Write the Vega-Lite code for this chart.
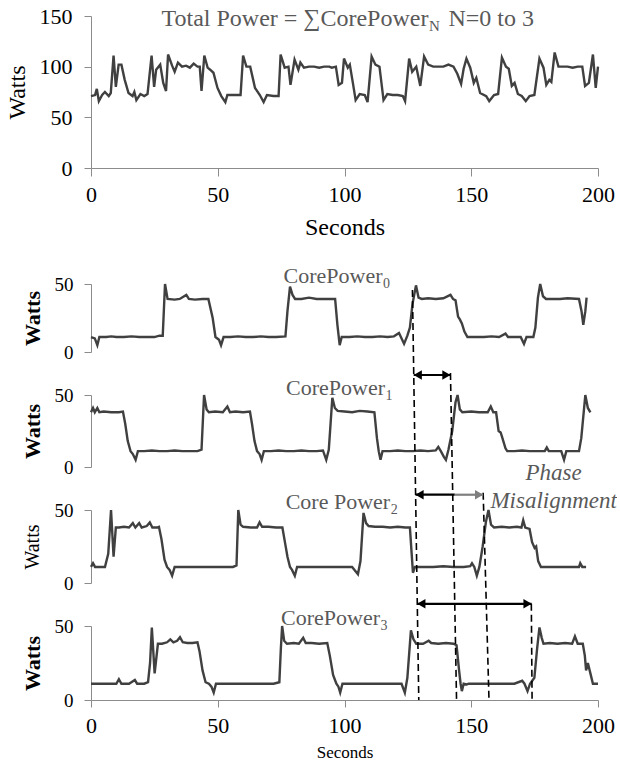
{
  "$schema": "https://vega.github.io/schema/vega-lite/v6.json",
  "padding": {"left": 5, "top": 5, "right": 0, "bottom": 0},
  "config": {
    "font": "Liberation Serif, Times New Roman, DejaVu Serif, serif",
    "text": {"font": "Liberation Serif, Times New Roman, DejaVu Serif, serif"},
    "view": {"stroke": null},
    "axis": {"domainColor": "#8c8c8c", "tickColor": "#8c8c8c", "labelColor": "#000000", "titleColor": "#000000", "labelFont": "Liberation Serif, Times New Roman, DejaVu Serif, serif", "titleFont": "Liberation Serif, Times New Roman, DejaVu Serif, serif", "grid": false, "labelFlush": false, "labelOverlap": false}
  },
  "datasets": {
    "total": [
      {"t":0,"w":71},{"t":1.6,"w":72},{"t":2.3,"w":78},{"t":3.1,"w":66},{"t":4.4,"w":72},{"t":5.5,"w":75},{"t":7,"w":71},{"t":7.8,"w":74},{"t":8.9,"w":111},{"t":9.8,"w":80},{"t":10.9,"w":102},{"t":12,"w":102},{"t":13.3,"w":87},{"t":14.8,"w":74},{"t":16.4,"w":71},{"t":17.1,"w":75},{"t":17.9,"w":67},{"t":19.5,"w":73},{"t":21,"w":71},{"t":22.3,"w":73},{"t":23.9,"w":111},{"t":24.9,"w":80},{"t":25.7,"w":97},{"t":27.3,"w":102},{"t":28.5,"w":84},{"t":29.6,"w":76},{"t":30.4,"w":112},{"t":32,"w":101},{"t":33,"w":95},{"t":34.3,"w":104},{"t":35.9,"w":100},{"t":37.5,"w":101},{"t":39,"w":99},{"t":40.5,"w":103},{"t":42,"w":100},{"t":42.9,"w":100},{"t":43.6,"w":76},{"t":44.7,"w":111},{"t":46,"w":99},{"t":47,"w":97},{"t":48.3,"w":94},{"t":49.9,"w":79},{"t":51.4,"w":71},{"t":53,"w":65},{"t":53.8,"w":72},{"t":56,"w":72},{"t":59,"w":72},{"t":60,"w":111},{"t":61.3,"w":100},{"t":62.8,"w":100},{"t":64.7,"w":79},{"t":66.6,"w":72},{"t":68.1,"w":65},{"t":69.4,"w":72},{"t":72,"w":71},{"t":74,"w":71},{"t":74.8,"w":112},{"t":76.4,"w":99},{"t":77.9,"w":100},{"t":78.7,"w":82},{"t":80.3,"w":107},{"t":81.8,"w":97},{"t":82.6,"w":104},{"t":84,"w":99},{"t":86,"w":100},{"t":88,"w":100},{"t":90,"w":99},{"t":92,"w":100},{"t":94,"w":100},{"t":95,"w":99},{"t":96.6,"w":100},{"t":97.7,"w":82},{"t":99,"w":84},{"t":99.8,"w":108},{"t":101.3,"w":99},{"t":102.1,"w":102},{"t":103.3,"w":84},{"t":104.4,"w":67},{"t":106,"w":73},{"t":108,"w":72},{"t":109.1,"w":65},{"t":110.7,"w":110},{"t":112.2,"w":102},{"t":113.8,"w":100},{"t":115.4,"w":67},{"t":116.9,"w":73},{"t":119,"w":72},{"t":121,"w":72},{"t":123,"w":71},{"t":123.9,"w":66},{"t":125.5,"w":108},{"t":126.7,"w":95},{"t":128.3,"w":100},{"t":129.9,"w":81},{"t":131.4,"w":110},{"t":133,"w":102},{"t":135,"w":100},{"t":137,"w":100},{"t":139,"w":100},{"t":141,"w":102},{"t":143,"w":100},{"t":144.5,"w":93},{"t":146,"w":83},{"t":147,"w":98},{"t":148.1,"w":108},{"t":149.6,"w":99},{"t":151,"w":84},{"t":152,"w":89},{"t":153.5,"w":74},{"t":155.9,"w":71},{"t":157.1,"w":66},{"t":159,"w":72},{"t":160.6,"w":73},{"t":162.1,"w":109},{"t":163.7,"w":100},{"t":164.8,"w":98},{"t":166,"w":81},{"t":167.1,"w":84},{"t":168.4,"w":73},{"t":169.9,"w":71},{"t":171.5,"w":66},{"t":173,"w":71},{"t":174.9,"w":72},{"t":176.9,"w":108},{"t":178.5,"w":99},{"t":179.6,"w":82},{"t":180.8,"w":87},{"t":181.6,"w":85},{"t":182.9,"w":114},{"t":184.4,"w":100},{"t":186,"w":100},{"t":188,"w":100},{"t":190,"w":99},{"t":192,"w":100},{"t":193.8,"w":100},{"t":194.9,"w":81},{"t":196.4,"w":84},{"t":198,"w":112},{"t":199.1,"w":79},{"t":200,"w":100}
    ],
    "c0": [
      {"t":0,"w":11},{"t":1.5,"w":10},{"t":2.5,"w":5},{"t":3.3,"w":11},{"t":6,"w":11},{"t":8,"w":11.5},{"t":10,"w":11},{"t":13,"w":11},{"t":16,"w":11.5},{"t":19,"w":11},{"t":22,"w":11},{"t":25,"w":11},{"t":27,"w":12},{"t":28.3,"w":12},{"t":29.2,"w":50},{"t":30.2,"w":39},{"t":33,"w":38.5},{"t":35,"w":39},{"t":37.6,"w":42},{"t":38.6,"w":39},{"t":41,"w":38.5},{"t":44,"w":39},{"t":46.3,"w":39},{"t":48,"w":25},{"t":49.1,"w":11},{"t":50.5,"w":9},{"t":51.3,"w":5},{"t":52.3,"w":11},{"t":55,"w":11},{"t":58,"w":11.5},{"t":61,"w":11},{"t":64,"w":11},{"t":67,"w":11.5},{"t":70,"w":11},{"t":73,"w":11},{"t":76.7,"w":11.5},{"t":77.5,"w":30},{"t":78.5,"w":48},{"t":79.5,"w":42},{"t":80.5,"w":39},{"t":83,"w":39},{"t":86,"w":40},{"t":89,"w":39},{"t":92,"w":39},{"t":96.3,"w":39},{"t":97.2,"w":20},{"t":98.1,"w":5},{"t":98.9,"w":11},{"t":102,"w":11},{"t":105,"w":11.5},{"t":108,"w":11},{"t":111,"w":11},{"t":114,"w":11.5},{"t":117,"w":11},{"t":119.5,"w":11.5},{"t":121.5,"w":14},{"t":123.5,"w":6},{"t":124.8,"w":12},{"t":125.8,"w":18},{"t":126.8,"w":35},{"t":128.2,"w":49},{"t":129.2,"w":40},{"t":130.5,"w":39},{"t":133,"w":39.5},{"t":136,"w":39},{"t":139,"w":39.5},{"t":141.8,"w":42},{"t":142.8,"w":39},{"t":143.8,"w":38},{"t":144.8,"w":26},{"t":145.5,"w":24},{"t":146.3,"w":21},{"t":147.3,"w":15},{"t":148.5,"w":11},{"t":152,"w":11},{"t":155,"w":11},{"t":158,"w":11.5},{"t":161,"w":11},{"t":163.5,"w":13.5},{"t":164.5,"w":11},{"t":167,"w":11},{"t":169.5,"w":11},{"t":170.8,"w":6},{"t":171.8,"w":11},{"t":174.5,"w":11},{"t":175.3,"w":18},{"t":176.3,"w":40},{"t":177.2,"w":50},{"t":178.3,"w":41},{"t":179.5,"w":39},{"t":182,"w":39},{"t":185,"w":39},{"t":188,"w":39.5},{"t":192.5,"w":39},{"t":193.5,"w":30},{"t":194.2,"w":20},{"t":195,"w":30},{"t":195.5,"w":40}
    ],
    "c1": [
      {"t":0,"w":38},{"t":0.8,"w":41},{"t":1.5,"w":38},{"t":2.5,"w":41},{"t":3.3,"w":38},{"t":5,"w":38.5},{"t":8,"w":38},{"t":11,"w":38},{"t":12.6,"w":38.5},{"t":13.5,"w":30},{"t":14.5,"w":18},{"t":15.6,"w":11},{"t":16.5,"w":9},{"t":17.6,"w":5},{"t":18.5,"w":11},{"t":21,"w":11},{"t":24,"w":11.5},{"t":27,"w":11},{"t":30,"w":11},{"t":33,"w":11.5},{"t":36,"w":11},{"t":39,"w":11},{"t":42,"w":11},{"t":43.6,"w":12},{"t":44.6,"w":50},{"t":45.6,"w":40},{"t":46.5,"w":38},{"t":49,"w":38.5},{"t":52,"w":38},{"t":53.8,"w":42},{"t":54.8,"w":38},{"t":57,"w":38.5},{"t":60,"w":38},{"t":62.7,"w":38.5},{"t":63.5,"w":30},{"t":64.5,"w":18},{"t":65.5,"w":11},{"t":66.5,"w":9},{"t":67.3,"w":5},{"t":68.2,"w":11},{"t":71,"w":11},{"t":74,"w":11.5},{"t":77,"w":11},{"t":80,"w":11},{"t":83,"w":11.5},{"t":86,"w":11},{"t":89,"w":11},{"t":91.5,"w":11.5},{"t":92.8,"w":5},{"t":93.8,"w":12},{"t":94.5,"w":30},{"t":95.2,"w":48},{"t":96.2,"w":41},{"t":97.3,"w":39},{"t":100,"w":38.5},{"t":103,"w":38},{"t":106,"w":39},{"t":109,"w":38.5},{"t":111.8,"w":38},{"t":112.8,"w":20},{"t":113.5,"w":11},{"t":114.2,"w":5},{"t":115,"w":11},{"t":118,"w":11},{"t":121,"w":11.5},{"t":124,"w":11},{"t":127,"w":11},{"t":130,"w":11.5},{"t":133,"w":11},{"t":136,"w":11.5},{"t":137,"w":14},{"t":138,"w":11},{"t":139.2,"w":7},{"t":140,"w":5},{"t":141,"w":12},{"t":142.5,"w":25},{"t":143.8,"w":45},{"t":144.6,"w":50},{"t":145.5,"w":40},{"t":146.5,"w":38},{"t":150,"w":38.5},{"t":153,"w":38},{"t":156.5,"w":38},{"t":157.7,"w":42},{"t":158.7,"w":38},{"t":159.8,"w":38},{"t":160.8,"w":25},{"t":161.6,"w":24},{"t":162.3,"w":20},{"t":163.5,"w":13},{"t":164.2,"w":11},{"t":167,"w":11},{"t":170,"w":11.5},{"t":173,"w":11},{"t":176,"w":11},{"t":179,"w":11},{"t":179.8,"w":13.5},{"t":180.6,"w":11},{"t":183,"w":11},{"t":185.5,"w":11},{"t":186.6,"w":5},{"t":187.5,"w":11},{"t":192.5,"w":11},{"t":193.4,"w":20},{"t":194.2,"w":35},{"t":195,"w":50},{"t":196,"w":41},{"t":197,"w":38}
    ],
    "c2": [
      {"t":0,"w":11},{"t":0.8,"w":13.5},{"t":1.6,"w":11},{"t":3.5,"w":11},{"t":5.5,"w":11},{"t":6.8,"w":20},{"t":7.9,"w":50},{"t":8.9,"w":18},{"t":9.8,"w":38},{"t":11,"w":38},{"t":13,"w":38.5},{"t":15,"w":38},{"t":16.5,"w":41},{"t":17.5,"w":38},{"t":19,"w":41},{"t":20,"w":38},{"t":22,"w":39},{"t":23.2,"w":41.5},{"t":24.2,"w":38},{"t":26,"w":38},{"t":26.8,"w":38.5},{"t":27.8,"w":30},{"t":29,"w":16},{"t":30,"w":11},{"t":31,"w":9},{"t":32,"w":5},{"t":33,"w":11},{"t":36,"w":11},{"t":40,"w":11},{"t":44,"w":11},{"t":48,"w":11},{"t":52,"w":11},{"t":56,"w":11},{"t":57.4,"w":12},{"t":58.1,"w":50},{"t":59,"w":40},{"t":60,"w":38.5},{"t":63,"w":38},{"t":65.5,"w":38},{"t":66.5,"w":41.5},{"t":67.5,"w":38.5},{"t":70,"w":38.5},{"t":73,"w":38},{"t":75.5,"w":38},{"t":76.5,"w":28},{"t":77.5,"w":18},{"t":78.5,"w":11},{"t":79.3,"w":9},{"t":80.4,"w":5},{"t":81.3,"w":11},{"t":85,"w":11},{"t":90,"w":11},{"t":95,"w":11},{"t":100,"w":11},{"t":103,"w":11},{"t":105.3,"w":6},{"t":106.3,"w":15},{"t":107.5,"w":48},{"t":108.5,"w":41},{"t":109.5,"w":39},{"t":112,"w":38.5},{"t":115,"w":38.5},{"t":118,"w":38},{"t":121,"w":38.5},{"t":124,"w":38},{"t":125.8,"w":38},{"t":126.5,"w":20},{"t":127,"w":7},{"t":127.8,"w":11},{"t":131,"w":11},{"t":135,"w":11},{"t":139,"w":11.5},{"t":143,"w":11},{"t":147,"w":11},{"t":149.6,"w":11.5},{"t":150.3,"w":13.5},{"t":151.2,"w":11},{"t":152.2,"w":5},{"t":153.2,"w":11},{"t":154.5,"w":25},{"t":155.8,"w":42},{"t":156.8,"w":50},{"t":157.8,"w":40},{"t":159,"w":38},{"t":162,"w":38.5},{"t":165,"w":38},{"t":168,"w":38.5},{"t":169.8,"w":38},{"t":170.5,"w":43},{"t":171.3,"w":38},{"t":173,"w":37},{"t":174,"w":28},{"t":175,"w":24},{"t":175.6,"w":25},{"t":176.4,"w":15},{"t":177.5,"w":11},{"t":180,"w":11},{"t":184,"w":11},{"t":188,"w":11},{"t":192.5,"w":11},{"t":193,"w":13.5},{"t":193.8,"w":11},{"t":195.3,"w":11}
    ],
    "c3": [
      {"t":0,"w":11},{"t":5,"w":11},{"t":10,"w":11},{"t":11,"w":14},{"t":12,"w":11},{"t":15,"w":11},{"t":17.3,"w":13.5},{"t":18.2,"w":11},{"t":21,"w":11},{"t":22.5,"w":12},{"t":23.3,"w":25},{"t":24,"w":49},{"t":25.1,"w":18},{"t":26.4,"w":38},{"t":28,"w":38},{"t":30,"w":39},{"t":31.3,"w":41},{"t":32.5,"w":39},{"t":34,"w":40},{"t":35.1,"w":42.5},{"t":36.2,"w":39},{"t":38,"w":38.5},{"t":40,"w":38.5},{"t":42,"w":39},{"t":42.8,"w":33},{"t":44,"w":20},{"t":45.2,"w":12},{"t":46.5,"w":11},{"t":47.5,"w":9},{"t":48.4,"w":5},{"t":49.3,"w":11},{"t":53,"w":11},{"t":58,"w":11},{"t":63,"w":11},{"t":68,"w":11},{"t":72,"w":11},{"t":74.3,"w":12},{"t":74.9,"w":35},{"t":75.4,"w":50},{"t":76.2,"w":40},{"t":77.3,"w":38},{"t":80,"w":38.5},{"t":82,"w":38},{"t":83.7,"w":42},{"t":84.7,"w":38.5},{"t":87,"w":38.5},{"t":90,"w":38},{"t":93.2,"w":38.5},{"t":94.2,"w":30},{"t":95.5,"w":17},{"t":96.8,"w":11},{"t":97.6,"w":9},{"t":98.3,"w":5},{"t":99.2,"w":11},{"t":103,"w":11},{"t":108,"w":11},{"t":113,"w":11},{"t":118,"w":11},{"t":122.5,"w":11},{"t":123.8,"w":5},{"t":124.8,"w":15},{"t":126.2,"w":47},{"t":127.2,"w":41},{"t":128.3,"w":38},{"t":131,"w":38},{"t":133.2,"w":40},{"t":134.2,"w":38.5},{"t":137,"w":38},{"t":140,"w":38.5},{"t":143,"w":38},{"t":144.2,"w":37},{"t":145.2,"w":20},{"t":145.8,"w":11},{"t":146.3,"w":6},{"t":147,"w":11},{"t":148.2,"w":10.5},{"t":149,"w":11},{"t":153,"w":11},{"t":158,"w":11},{"t":163,"w":11},{"t":167,"w":11},{"t":170.1,"w":13},{"t":171,"w":11},{"t":172.2,"w":6},{"t":173.2,"w":11},{"t":174.9,"w":15},{"t":176,"w":35},{"t":176.9,"w":49},{"t":177.8,"w":42},{"t":178.5,"w":38},{"t":181,"w":38.5},{"t":184,"w":38},{"t":187,"w":38.5},{"t":189.8,"w":38},{"t":190.9,"w":43},{"t":192,"w":38},{"t":194,"w":38},{"t":194.8,"w":30},{"t":195.3,"w":20},{"t":196,"w":25},{"t":197,"w":18},{"t":198,"w":11},{"t":200,"w":11}
    ],
    "dashes": [
      {"t":126.8,"t2":129.3,"w":277,"w2":0},
      {"t":141.8,"t2":144.2,"w":221,"w2":0},
      {"t":154.7,"t2":157.0,"w":140,"w2":0},
      {"t":173.7,"t2":174.0,"w":65,"w2":0}
    ],
    "arrowsBlack": [
      {"t":127.3,"t2":141.8,"w":219.6},
      {"t":128.0,"t2":143.5,"w":138.7},
      {"t":128.7,"t2":173.8,"w":65}
    ],
    "arrowsGray": [
      {"t":143.5,"t2":154.7,"w":138.7}
    ],
    "headsLeft": [
      {"t":128.9,"w":219.6},{"t":129.6,"w":138.7},{"t":130.3,"w":65}
    ],
    "headsRightBlack": [
      {"t":140.2,"w":219.6},{"t":172.2,"w":65}
    ],
    "headsRightGray": [
      {"t":153.1,"w":138.7}
    ],
    "phase": [
      {"t":182.5,"w":153.5,"label":"Phase"},
      {"t":182.5,"w":134.5,"label":"Misalignment"}
    ]
  },
  "bounds": "flush",
  "spacing": 116,
  "vconcat": [
    {
      "width": 507,
      "height": 152,
      "layer": [
        {
          "data": {"name": "total"},
          "mark": {"type": "line", "color": "#404040", "strokeWidth": 2.4},
          "encoding": {
            "x": {"field": "t", "type": "quantitative", "scale": {"domain": [0, 200], "nice": false},
              "axis": {"values": [0, 50, 100, 150, 200], "title": "Seconds", "titleFontSize": 24, "titleFontWeight": "normal", "labelFontSize": 22, "tickSize": 8, "labelPadding": 8, "titlePadding": 10}},
            "y": {"field": "w", "type": "quantitative", "scale": {"domain": [0, 150], "nice": false},
              "axis": {"values": [0, 50, 100, 150], "title": "Watts", "titleFontSize": 24, "titleFontWeight": "normal", "labelFontSize": 22, "tickSize": 7, "labelPadding": 12, "titlePadding": 10}}
          }
        },
        {
          "data": {"values": [{"t": 133.1, "w": 140, "label": "Total Power = ∑CorePower"}]},
          "mark": {"type": "text", "align": "right", "baseline": "alphabetic", "fontSize": 24, "color": "#595959"},
          "encoding": {"x": {"field": "t", "type": "quantitative"}, "y": {"field": "w", "type": "quantitative"}, "text": {"field": "label"}}
        },
        {
          "data": {"values": [{"t": 133.3, "w": 140, "label": "N"}]},
          "mark": {"type": "text", "align": "left", "baseline": "alphabetic", "fontSize": 15, "dy": 5, "color": "#595959"},
          "encoding": {"x": {"field": "t", "type": "quantitative"}, "y": {"field": "w", "type": "quantitative"}, "text": {"field": "label"}}
        },
        {
          "data": {"values": [{"t": 141, "w": 140, "label": "N=0 to 3"}]},
          "mark": {"type": "text", "align": "left", "baseline": "alphabetic", "fontSize": 24, "color": "#595959"},
          "encoding": {"x": {"field": "t", "type": "quantitative"}, "y": {"field": "w", "type": "quantitative"}, "text": {"field": "label"}}
        }
      ]
    },
    {
      "bounds": "flush",
      "spacing": 43,
      "vconcat": [
        {
          "width": 507,
          "height": 68,
          "layer": [
            {
              "data": {"name": "c0"},
              "mark": {"type": "line", "color": "#404040", "strokeWidth": 2.4},
              "encoding": {
                "x": {"field": "t", "type": "quantitative", "scale": {"domain": [0, 200], "nice": false}, "axis": null},
                "y": {"field": "w", "type": "quantitative", "scale": {"domain": [0, 50], "nice": false},
                  "axis": {"values": [0, 50], "title": "Watts", "titleFontSize": 22, "titleFontWeight": "bold", "labelFontSize": 19, "tickSize": 7, "labelPadding": 11, "titlePadding": 10}}
              }
            },
            {
              "data": {"values": [{"t": 115, "w": 51, "label": "CorePower"}]},
              "mark": {"type": "text", "align": "right", "baseline": "alphabetic", "fontSize": 22, "color": "#595959"},
              "encoding": {"x": {"field": "t", "type": "quantitative"}, "y": {"field": "w", "type": "quantitative"}, "text": {"field": "label"}}
            },
            {
              "data": {"values": [{"t": 115.2, "w": 51, "label": "0"}]},
              "mark": {"type": "text", "align": "left", "baseline": "alphabetic", "fontSize": 14, "dy": 5, "color": "#595959"},
              "encoding": {"x": {"field": "t", "type": "quantitative"}, "y": {"field": "w", "type": "quantitative"}, "text": {"field": "label"}}
            }
          ]
        },
        {
          "width": 507,
          "height": 72,
          "layer": [
            {
              "data": {"name": "c1"},
              "mark": {"type": "line", "color": "#404040", "strokeWidth": 2.4},
              "encoding": {
                "x": {"field": "t", "type": "quantitative", "scale": {"domain": [0, 200], "nice": false}, "axis": null},
                "y": {"field": "w", "type": "quantitative", "scale": {"domain": [0, 50], "nice": false},
                  "axis": {"values": [0, 50], "title": "Watts", "titleFontSize": 22, "titleFontWeight": "bold", "labelFontSize": 19, "tickSize": 7, "labelPadding": 11, "titlePadding": 10}}
              }
            },
            {
              "data": {"values": [{"t": 116, "w": 50, "label": "CorePower"}]},
              "mark": {"type": "text", "align": "right", "baseline": "alphabetic", "fontSize": 22, "color": "#595959"},
              "encoding": {"x": {"field": "t", "type": "quantitative"}, "y": {"field": "w", "type": "quantitative"}, "text": {"field": "label"}}
            },
            {
              "data": {"values": [{"t": 116.2, "w": 50, "label": "1"}]},
              "mark": {"type": "text", "align": "left", "baseline": "alphabetic", "fontSize": 14, "dy": 5, "color": "#595959"},
              "encoding": {"x": {"field": "t", "type": "quantitative"}, "y": {"field": "w", "type": "quantitative"}, "text": {"field": "label"}}
            }
          ]
        },
        {
          "width": 507,
          "height": 73,
          "layer": [
            {
              "data": {"name": "c2"},
              "mark": {"type": "line", "color": "#404040", "strokeWidth": 2.4},
              "encoding": {
                "x": {"field": "t", "type": "quantitative", "scale": {"domain": [0, 200], "nice": false}, "axis": null},
                "y": {"field": "w", "type": "quantitative", "scale": {"domain": [0, 50], "nice": false},
                  "axis": {"values": [0, 50], "title": "Watts", "titleFontSize": 20, "titleFontWeight": "normal", "labelFontSize": 19, "tickSize": 7, "labelPadding": 11, "titlePadding": 12}}
              }
            },
            {
              "data": {"values": [{"t": 118, "w": 51, "label": "Core Power"}]},
              "mark": {"type": "text", "align": "right", "baseline": "alphabetic", "fontSize": 22, "color": "#595959"},
              "encoding": {"x": {"field": "t", "type": "quantitative"}, "y": {"field": "w", "type": "quantitative"}, "text": {"field": "label"}}
            },
            {
              "data": {"values": [{"t": 118.2, "w": 51, "label": "2"}]},
              "mark": {"type": "text", "align": "left", "baseline": "alphabetic", "fontSize": 14, "dy": 5, "color": "#595959"},
              "encoding": {"x": {"field": "t", "type": "quantitative"}, "y": {"field": "w", "type": "quantitative"}, "text": {"field": "label"}}
            }
          ]
        },
        {
          "width": 507,
          "height": 74,
          "layer": [
            {
              "data": {"name": "c3"},
              "mark": {"type": "line", "color": "#404040", "strokeWidth": 2.4},
              "encoding": {
                "x": {"field": "t", "type": "quantitative", "scale": {"domain": [0, 200], "nice": false},
                  "axis": {"values": [0, 50, 100, 150, 200], "title": "Seconds", "titleFontSize": 17, "titleFontWeight": "normal", "labelFontSize": 22, "tickSize": 7, "labelPadding": 8, "titlePadding": 8}},
                "y": {"field": "w", "type": "quantitative", "scale": {"domain": [0, 50], "nice": false},
                  "axis": {"values": [0, 50], "title": "Watts", "titleFontSize": 22, "titleFontWeight": "bold", "labelFontSize": 19, "tickSize": 7, "labelPadding": 11, "titlePadding": 10}}
              }
            },
            {
              "data": {"values": [{"t": 114, "w": 51, "label": "CorePower"}]},
              "mark": {"type": "text", "align": "right", "baseline": "alphabetic", "fontSize": 22, "color": "#595959"},
              "encoding": {"x": {"field": "t", "type": "quantitative"}, "y": {"field": "w", "type": "quantitative"}, "text": {"field": "label"}}
            },
            {
              "data": {"values": [{"t": 114.2, "w": 51, "label": "3"}]},
              "mark": {"type": "text", "align": "left", "baseline": "alphabetic", "fontSize": 14, "dy": 5, "color": "#595959"},
              "encoding": {"x": {"field": "t", "type": "quantitative"}, "y": {"field": "w", "type": "quantitative"}, "text": {"field": "label"}}
            },
            {
              "data": {"name": "dashes"},
              "mark": {"type": "rule", "color": "#000000", "strokeWidth": 1.6, "strokeDash": [7, 4]},
              "encoding": {"x": {"field": "t", "type": "quantitative"}, "x2": {"field": "t2"}, "y": {"field": "w", "type": "quantitative"}, "y2": {"field": "w2"}}
            },
            {
              "data": {"name": "arrowsBlack"},
              "mark": {"type": "rule", "color": "#000000", "strokeWidth": 2.2},
              "encoding": {"x": {"field": "t", "type": "quantitative"}, "x2": {"field": "t2"}, "y": {"field": "w", "type": "quantitative"}}
            },
            {
              "data": {"name": "arrowsGray"},
              "mark": {"type": "rule", "color": "#7f7f7f", "strokeWidth": 2.2},
              "encoding": {"x": {"field": "t", "type": "quantitative"}, "x2": {"field": "t2"}, "y": {"field": "w", "type": "quantitative"}}
            },
            {
              "data": {"name": "headsLeft"},
              "mark": {"type": "point", "shape": "triangle-left", "filled": true, "size": 90, "color": "#000000", "opacity": 1},
              "encoding": {"x": {"field": "t", "type": "quantitative"}, "y": {"field": "w", "type": "quantitative"}}
            },
            {
              "data": {"name": "headsRightBlack"},
              "mark": {"type": "point", "shape": "triangle-right", "filled": true, "size": 90, "color": "#000000", "opacity": 1},
              "encoding": {"x": {"field": "t", "type": "quantitative"}, "y": {"field": "w", "type": "quantitative"}}
            },
            {
              "data": {"name": "headsRightGray"},
              "mark": {"type": "point", "shape": "triangle-right", "filled": true, "size": 90, "color": "#7f7f7f", "opacity": 1},
              "encoding": {"x": {"field": "t", "type": "quantitative"}, "y": {"field": "w", "type": "quantitative"}}
            },
            {
              "data": {"name": "phase"},
              "mark": {"type": "text", "align": "center", "baseline": "middle", "fontSize": 23, "fontStyle": "italic", "color": "#595959"},
              "encoding": {"x": {"field": "t", "type": "quantitative"}, "y": {"field": "w", "type": "quantitative"}, "text": {"field": "label"}}
            }
          ]
        }
      ]
    }
  ]
}
